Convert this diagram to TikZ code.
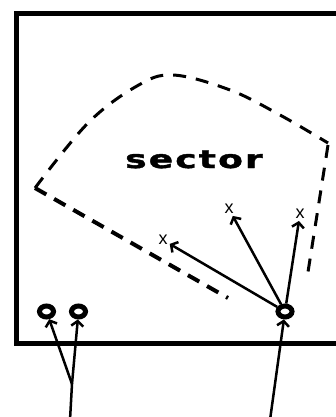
\documentclass[tikz,border=0pt]{standalone}
\usepackage{fontspec}
\setmainfont{Liberation Sans}
\newfontfamily\secfont[LetterSpace=8,FakeStretch=1.45,FakeBold=1.5]{DejaVu Sans}
\usetikzlibrary{arrows.meta,shapes.geometric}
\tikzset{
  frame/.style={line width=5pt},
  sectorline/.style={line width=3pt, dash pattern=on 13pt off 10pt},
  sectorthick/.style={line width=4pt, dash pattern=on 13pt off 9pt},
  move/.style={line width=2.5pt, -{Straight Barb[length=5pt,width=12pt,line width=2.5pt]}},
  plain/.style={line width=2.5pt},
  player/.style={draw, ellipse, line width=5pt, minimum width=14pt, minimum height=11pt, inner sep=0pt, outer sep=2.5pt},
  target/.style={font=\fontsize{18}{18}\selectfont, inner sep=2pt},
}
\begin{document}
\begin{tikzpicture}[x=1pt,y=-1pt]
\useasboundingbox (0,0) rectangle (336,417);
\clip (0,0) rectangle (336,417);
\fill[white] (0,0) rectangle (336,417);
\draw[frame] (16,14) rectangle (350,343);
% sector outline
\draw[sectorline] plot[smooth, tension=0.6] coordinates {(35,188) (88,123) (137,86) (173,75) (230,90) (280,115) (328,143)};
\draw[sectorline] (328,145) -- (308,272);
\draw[sectorthick] (35,188) -- (228,298);
\node[font=\secfont\bfseries\fontsize{25}{25}\selectfont, anchor=base] (lbl) at (194,168) {sector};
% players
\node[player] (o1) at (46.5,311.5) {};
\node[player] (o2) at (78.5,311.5) {};
\node[player] (o3) at (285,311.5) {};
% targets
\node[target] (x1) at (163,240) {x};
\node[target] (x2) at (229,209) {x};
\node[target] (x3) at (300,214) {x};
% incoming
\coordinate (b1) at (70,420);
\coordinate (j) at (72,384);
\coordinate (b2) at (270,420);
\draw[plain] (b1) -- (j);
\draw[move] (j) -- (o1);
\draw[move] (j) -- (o2);
\draw[move] (b2) -- (o3);
% passes
\draw[move] (o3) -- (x1);
\draw[move] (o3) -- (x2);
\draw[move] (o3) -- (x3);
\end{tikzpicture}
\end{document}
